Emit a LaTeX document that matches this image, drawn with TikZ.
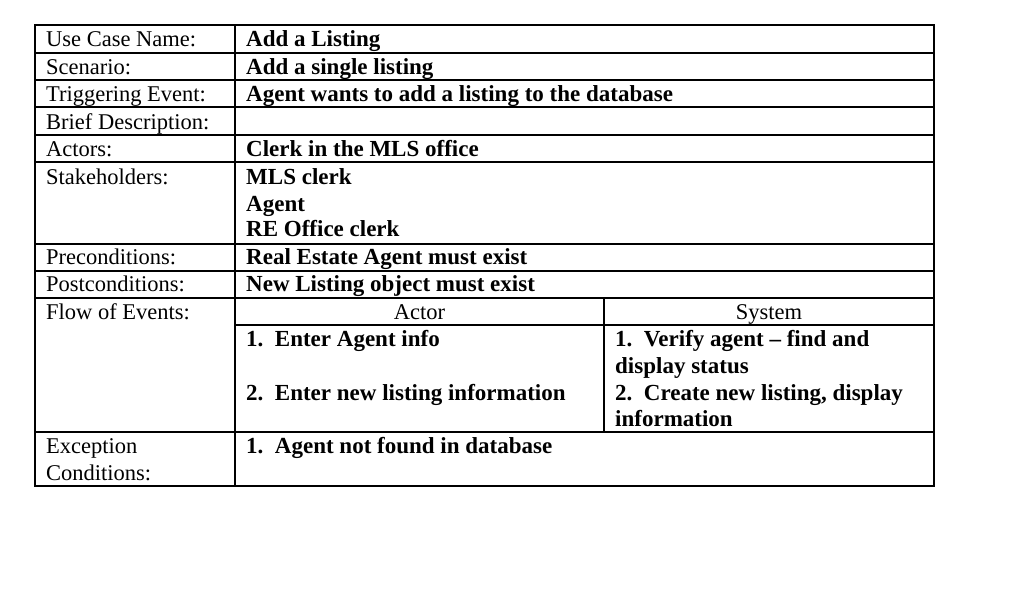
\documentclass[tikz,border=0pt]{standalone}
\usepackage{fontspec}
\setmainfont{Liberation Serif}
\begin{document}
\begin{tikzpicture}[x=1pt,y=-1pt,
  lab/.style={anchor=base west,inner sep=0pt,font=\fontsize{22.5}{26}\selectfont},
  val/.style={anchor=base west,inner sep=0pt,font=\fontsize{23}{26}\selectfont\bfseries},
  hd/.style={anchor=base,inner sep=0pt,font=\fontsize{22.5}{26}\selectfont},
  ln/.style={draw=black,line width=1.2pt}]
\useasboundingbox (0,0) rectangle (1024,589);
\draw[ln] (35,25) rectangle (934,486);
\draw[ln] (235,25) -- (235,486);
\foreach \y in {53,80,107,135,162,244,271,298,432} \draw[ln] (35,\y) -- (934,\y);
\draw[ln] (235,325) -- (934,325);
\draw[ln] (604,298) -- (604,432);
\node[lab] (l1) at (46,46) {Use Case Name:};
\node[lab] (l2) at (46,74) {Scenario:};
\node[lab] (l3) at (46,101) {Triggering Event:};
\node[lab] (l4) at (46,129) {Brief Description:};
\node[lab] (l5) at (46,156) {Actors:};
\node[lab] (l6) at (46,184) {Stakeholders:};
\node[lab] (l7) at (46,264) {Preconditions:};
\node[lab] (l8) at (46,291) {Postconditions:};
\node[lab] (l9) at (46,319) {Flow of Events:};
\node[lab] (l10) at (46,453) {Exception};
\node[lab] (l11) at (46,480) {Conditions:};
\node[val] (v1) at (246,46) {Add a Listing};
\node[val] (v2) at (246,74) {Add a single listing};
\node[val] (v3) at (246,101) {Agent wants to add a listing to the database};
\node[val] (v5) at (246,156) {Clerk in the MLS office};
\node[val] (v6a) at (246,184) {MLS clerk};
\node[val] (v6b) at (246,211) {Agent};
\node[val] (v6c) at (246,236) {RE Office clerk};
\node[val] (v7) at (246,264) {Real Estate Agent must exist};
\node[val] (v8) at (246,291) {New Listing object must exist};
\node[hd] (ha) at (419.5,319) {Actor};
\node[hd] (hs) at (769,319) {System};
\node[val] (a1) at (246,346) {1.\ \ Enter Agent info};
\node[val] (a2) at (246,400) {2.\ \ Enter new listing information};
\node[val] (s1) at (615,346) {1.\ \ Verify agent -- find and};
\node[val] (s1b) at (615,373) {display status};
\node[val] (s2) at (615,400) {2.\ \ Create new listing, display};
\node[val] (s2b) at (615,426) {information};
\node[val] (e1) at (246,453) {1.\ \ Agent not found in database};
\end{tikzpicture}
\end{document}
